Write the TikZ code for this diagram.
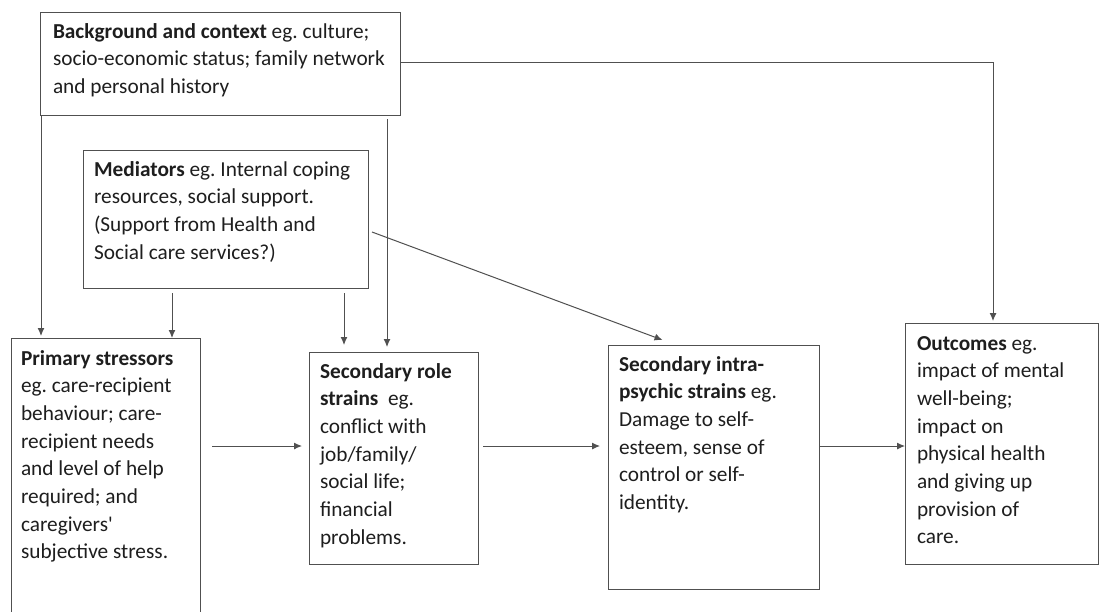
\documentclass[tikz,border=0pt]{standalone}
\usepackage{fontspec}
\setmainfont{Carlito}
\usetikzlibrary{arrows.meta}
\definecolor{linec}{RGB}{80,80,80}
\definecolor{textc}{RGB}{30,30,30}
\newcommand{\boxtxt}[4]{\parbox[t][#2][t]{#1}{\frenchspacing\raggedright\rule{0pt}{#3}#4}}
\begin{document}
\begin{tikzpicture}[x=1pt,y=-1pt,
  box/.style={draw=linec, line width=1pt, anchor=north west, inner ysep=0pt, outer sep=0pt,
    font=\fontsize{21.3pt}{27.7pt}\selectfont, text=textc},
  arr/.style={draw=linec, line width=1pt, -{Latex[length=8pt,width=7pt]}},
  ln/.style={draw=linec, line width=1pt}]
\useasboundingbox (0,0) rectangle (1099,611);
\clip (0,0) rectangle (1099,611);
\fill[white] (0,0) rectangle (1099,611);
\node[box, inner xsep=13pt] (bg) at (40,12) {\boxtxt{334pt}{103pt}{26pt}{\textbf{Background and context} eg. culture;\\ socio-economic status; family network\\ and personal history}};
\node[box, inner xsep=11pt] (med) at (83,150) {\boxtxt{263pt}{138pt}{26pt}{\textbf{Mediators} eg. Internal coping\\ resources, social support.\\ (Support from Health and\\ Social care services?)}};
\node[box, inner xsep=10pt] (pri) at (11,338) {\boxtxt{169pt}{290pt}{27pt}{\textbf{Primary stressors}\\ eg. care-recipient\\ behaviour; care-\\ recipient needs\\ and level of help\\ required; and\\ caregivers\textquotesingle\\ subjective stress.}};
\node[box, inner xsep=11pt] (sr) at (309,352) {\boxtxt{147pt}{212pt}{26pt}{\textbf{Secondary role}\\ \textbf{strains}~ eg.\\ conflict with\\ job/family/\\ social life;\\ financial\\ problems.}};
\node[box, inner xsep=11pt] (si) at (608,345) {\boxtxt{189pt}{244pt}{26pt}{\textbf{Secondary intra-}\\ \textbf{psychic strains} eg.\\ Damage to self-\\ esteem, sense of\\ control or self-\\ identity.}};
\node[box, inner xsep=12pt] (oc) at (905,323) {\boxtxt{169pt}{241pt}{27pt}{\textbf{Outcomes} eg.\\ impact of mental\\ well-being;\\ impact on\\ physical health\\ and giving up\\ provision of\\ care.}};
% helper coordinates for connector columns
\coordinate (c1) at (41,0);
\coordinate (c2) at (172,0);
\coordinate (c3) at (344,0);
\coordinate (c4) at (387,0);
\coordinate (c5) at (993,0);
\coordinate (r1) at (0,446);
% connectors
\draw[arr] (bg.south -| c1) -- ([yshift=2pt]pri.north -| c1);
\draw[arr] ([yshift=-5pt]med.south -| c2) -- (pri.north -| c2);
\draw[arr] ([yshift=-5pt]med.south -| c3) -- ([yshift=7pt]sr.north -| c3);
\draw[arr] ([yshift=-4pt]bg.south -| c4) -- ([yshift=5pt]sr.north -| c4);
\draw[arr] (bg.east |- 0,62) -| ([yshift=2pt]oc.north -| c5);
\draw[arr] ([xshift=4pt,yshift=-13pt]med.east) -- ([xshift=-51pt,yshift=5pt]si.north);
\draw[arr] ([xshift=12pt]pri.east |- r1) -- ([xshift=-7pt]sr.west |- r1);
\draw[arr] ([xshift=5pt]sr.east |- r1) -- ([xshift=-8pt]si.west |- r1);
\draw[arr] (si.east |- r1) -- (oc.west |- r1);
\end{tikzpicture}
\end{document}
